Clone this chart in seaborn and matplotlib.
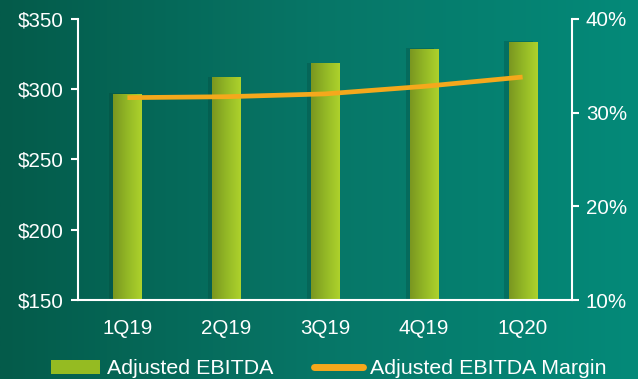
import numpy as np
import pandas as pd
import matplotlib
matplotlib.use("Agg")
import matplotlib.pyplot as plt
import seaborn as sns
from matplotlib.colors import LinearSegmentedColormap
from matplotlib.lines import Line2D
from matplotlib.patches import Patch
import matplotlib.patheffects as pe

categories = ["1Q19", "2Q19", "3Q19", "4Q19", "1Q20"]
ebitda = [296, 308, 318, 328, 333]
margin = [31.6, 31.7, 32.0, 32.8, 33.8]
left_ticks = [150, 200, 250, 300, 350]
left_labels = ["$150", "$200", "$250", "$300", "$350"]
right_ticks = [10, 20, 30, 40]
right_labels = ["10%", "20%", "30%", "40%"]

sns.set_theme(style="white")
plt.rcParams['font.family'] = ['Liberation Sans', 'DejaVu Sans']

fig = plt.figure(figsize=(6.38, 3.79), dpi=100)

# background gradient
bg = fig.add_axes([0, 0, 1, 1], zorder=-10)
bg_cmap = LinearSegmentedColormap.from_list("bg", ["#045b4a", "#077667", "#048a79"])
grad = np.linspace(0, 1, 256).reshape(1, -1)
bg.imshow(grad, cmap=bg_cmap, aspect="auto", extent=[0, 1, 0, 1])
bg.set_axis_off()

ax = fig.add_axes([0.1223, 0.2084, 0.7743, 0.7416])
ax.patch.set_alpha(0)
df = pd.DataFrame({"cat": categories, "ebitda": ebitda, "margin": margin})
sns.barplot(data=df, x="cat", y="ebitda", ax=ax, color="#95bb22", width=0.285,
            saturation=1)
ymin, ymax = 150, 350
ax.set_ylim(ymin, ymax)
ax.set_xlim(-0.5, 4.5)

bar_cmap = LinearSegmentedColormap.from_list("bar", ["#7a9620", "#93b826", "#aed22c"])
for p in ax.patches:
    p.set_edgecolor("none")
    p.set_path_effects([pe.SimplePatchShadow(offset=(-3, 1), shadow_rgbFace="#033d33", alpha=0.25),
                        pe.Normal()])
    x0, y0 = p.get_x(), p.get_y()
    w, h = p.get_width(), p.get_height()
    ax.imshow(grad, cmap=bar_cmap, aspect="auto",
              extent=[x0, x0 + w, max(y0, ymin), y0 + h], zorder=p.get_zorder() + 0.1)
ax.set_ylim(ymin, ymax)
ax.set_xlim(-0.5, 4.5)

ax2 = ax.twinx()
sns.lineplot(data=df, x="cat", y="margin", ax=ax2, color="#f5a81c", linewidth=3.4,
             solid_capstyle="butt")
ax2.set_ylim(10, 40)

white = "white"
for a in (ax, ax2):
    for s in a.spines.values():
        s.set_visible(False)
ax.spines["left"].set_visible(True)
ax.spines["bottom"].set_visible(True)
ax2.spines["right"].set_visible(True)
for s in (ax.spines["left"], ax.spines["bottom"], ax2.spines["right"]):
    s.set_color(white)
    s.set_linewidth(1.5)

fs = 14.8
ax.set_yticks(left_ticks)
ax.set_yticklabels(left_labels)
ax2.set_yticks(right_ticks)
ax2.set_yticklabels(right_labels)

ax.set_xticks(range(len(categories)))
ax.set_xticklabels(categories)
ax.tick_params(axis="x", length=0, pad=14, labelsize=fs, colors=white)
ax.set_xticks(np.arange(-0.5, 5.0, 1.0), minor=True)
ax.tick_params(axis="x", which="minor", length=5, width=1.5, color=white, direction="out")
ax.tick_params(axis="y", length=5, width=1.5, color=white, labelcolor=white,
               labelsize=fs, pad=5, left=True)
ax2.tick_params(axis="y", length=5, width=1.5, color=white, labelcolor=white,
                labelsize=fs, pad=5, right=True)
ax.set_xlabel("")
ax.set_ylabel("")
ax2.set_xlabel("")
ax2.set_ylabel("")
ax.grid(False)
ax2.grid(False)

handles = [Patch(facecolor="#95bb22", edgecolor="none"),
           Line2D([0], [0], color="#f5a81c", linewidth=5)]
leg = fig.legend(handles, ["Adjusted EBITDA", "Adjusted EBITDA Margin"],
                 loc="center", bbox_to_anchor=(0.515, 0.027), ncol=2, frameon=False,
                 fontsize=15.4, labelcolor=white, handlelength=2.3, handleheight=0.6,
                 columnspacing=1.9, handletextpad=0.33, borderpad=0)

fig.savefig("out.png", dpi=100)
